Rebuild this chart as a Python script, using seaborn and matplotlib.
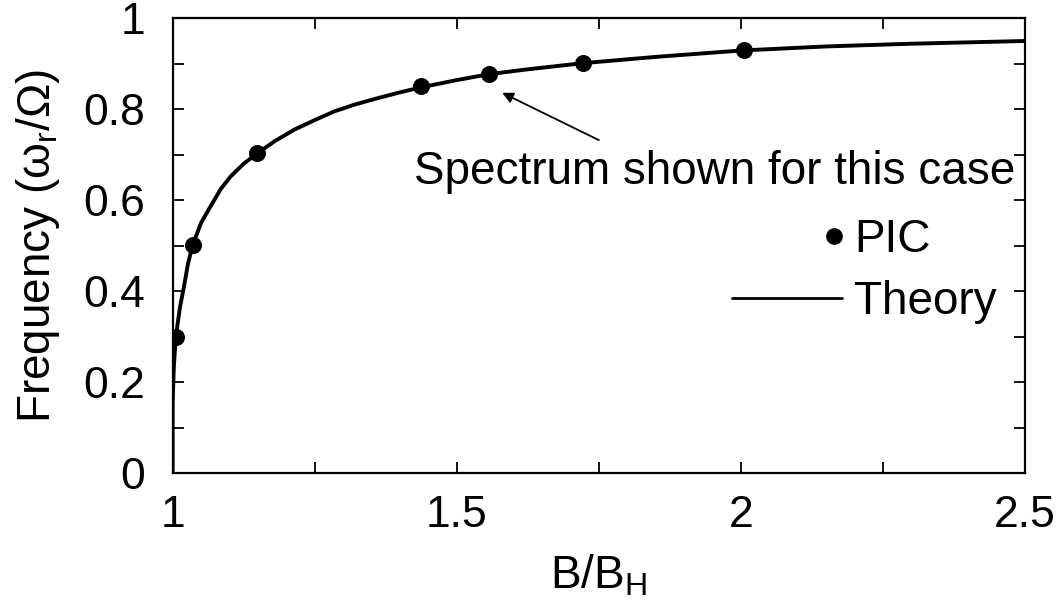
import numpy as np
import pandas as pd
import seaborn as sns
import matplotlib
matplotlib.use("Agg")
import matplotlib.pyplot as plt
from matplotlib.ticker import MultipleLocator, FormatStrFormatter
from matplotlib.legend_handler import HandlerLine2D
from matplotlib.lines import Line2D

# PIC simulation results
pic_b = [1.006, 1.035, 1.149, 1.437, 1.557, 1.722, 2.005]
pic_freq = [0.300, 0.501, 0.703, 0.850, 0.878, 0.902, 0.930]

# Theoretical dispersion curve
theory_b = [1.000, 1.000, 1.002, 1.004, 1.006, 1.009, 1.013, 1.020, 1.027, 1.035, 1.050,
            1.067, 1.085, 1.102, 1.125, 1.149, 1.180, 1.214, 1.250, 1.284, 1.320,
            1.360, 1.400, 1.437, 1.500, 1.557, 1.620, 1.720, 1.850, 2.000, 2.150,
            2.300, 2.500]
theory_freq = [0.000, 0.150, 0.230, 0.270, 0.300, 0.330, 0.365, 0.410, 0.460, 0.500, 0.550,
               0.587, 0.625, 0.652, 0.680, 0.703, 0.730, 0.755, 0.776, 0.795, 0.810,
               0.824, 0.837, 0.848, 0.864, 0.877, 0.887, 0.901, 0.915, 0.929, 0.938,
               0.944, 0.950]

x_ticks = [1, 1.5, 2, 2.5]
y_ticks = [0, 0.2, 0.4, 0.6, 0.8, 1]

sns.set_style("ticks")
plt.rcParams["font.family"] = ["Liberation Sans", "DejaVu Sans"]
plt.rcParams["mathtext.fontset"] = "custom"
plt.rcParams["mathtext.rm"] = "Liberation Sans"
plt.rcParams["mathtext.it"] = "Liberation Sans"
for key in ["text.color", "axes.labelcolor", "xtick.color", "ytick.color", "axes.edgecolor"]:
    plt.rcParams[key] = "black"

FS = 33
TICK_FS = 32

fig = plt.figure(figsize=(10.59, 6.08), dpi=100)
ax = fig.add_axes([0.163, 0.222, 0.805, 0.748])

theory = pd.DataFrame({"B": theory_b, "f": theory_freq})
pic = pd.DataFrame({"B": pic_b, "f": pic_freq})

sns.lineplot(data=theory, x="B", y="f", ax=ax, color="black", linewidth=2.8,
             sort=False, estimator=None)
sns.scatterplot(data=pic, x="B", y="f", ax=ax, color="black", s=150,
                edgecolor="black", linewidth=0, zorder=5)

ax.set_xlim(1, 2.5)
ax.set_ylim(0, 1)
ax.set_xticks(x_ticks)
ax.set_yticks(y_ticks)
ax.xaxis.set_minor_locator(MultipleLocator(0.25))
ax.yaxis.set_minor_locator(MultipleLocator(0.1))
ax.xaxis.set_major_formatter(FormatStrFormatter("%g"))
ax.yaxis.set_major_formatter(FormatStrFormatter("%g"))
ax.tick_params(which="both", direction="in", top=True, right=True,
               length=8, width=1.3, labelsize=TICK_FS)
ax.tick_params(axis="y", pad=20)
ax.tick_params(axis="x", pad=16)

for sp in ax.spines.values():
    sp.set_linewidth(1.6)

ax.set_xlabel(r"B/B$_\mathregular{H}$", fontsize=FS, labelpad=12)
ax.set_ylabel(r"Frequency ($\omega_\mathregular{r}$/$\Omega$)", fontsize=FS, labelpad=15)

ax.text(2.483, 0.662, "Spectrum shown for this case", fontsize=FS,
        ha="right", va="center")
ax.annotate("", xy=(1.580, 0.836), xytext=(1.750, 0.732),
            arrowprops=dict(arrowstyle="-|>", color="black", lw=1.3,
                            mutation_scale=16, shrinkA=0, shrinkB=0))


class RightMarkerHandler(HandlerLine2D):
    # single legend marker sits at the right end of the handle box
    def get_xdata(self, legend, xdescent, ydescent, width, height, fontsize):
        return [-xdescent + 0.86 * width, -xdescent + width], [-xdescent + 0.93 * width]


pic_handle = Line2D([], [], linestyle="none", marker="o", color="black", markersize=11)
theory_handle = Line2D([], [], color="black", linewidth=2.0)
ax.legend([pic_handle, theory_handle], ["PIC", "Theory"],
          handler_map={pic_handle: RightMarkerHandler(numpoints=1)},
          loc="upper right", bbox_to_anchor=(0.967, 0.56), frameon=False,
          fontsize=FS, handlelength=2.4, handletextpad=0.28, labelspacing=0.38,
          borderpad=0, borderaxespad=0)

fig.savefig("out.png", dpi=100)
